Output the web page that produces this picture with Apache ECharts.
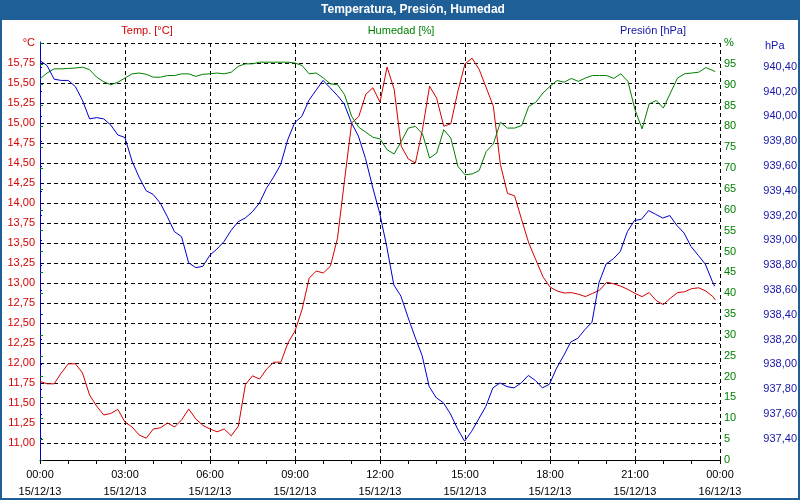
<!DOCTYPE html>
<html>
<head>
<meta charset="utf-8">
<script src="https://cdn.jsdelivr.net/npm/echarts@6/dist/echarts.min.js"></script>
<style>html,body{margin:0;padding:0;background:#fff}#c{width:800px;height:500px}</style>
</head>
<body>
<div id="c"></div>
<script>
// sample times (hours after 00:00 15/12/13), 15-minute readings + last at 23:50
const times = [];
for (let i = 0; i < 96; i++) times.push(i * 0.25);
times.push(23 + 50 / 60);

const tempC = [
  11.77, 11.74, 11.74, 11.875, 11.99, 11.99, 11.875, 11.60,
  11.46, 11.35, 11.37, 11.42, 11.26, 11.20, 11.10, 11.06,
  11.175, 11.19, 11.25, 11.20, 11.29, 11.425, 11.30, 11.22,
  11.175, 11.14, 11.175, 11.09, 11.21, 11.73, 11.84, 11.80,
  11.925, 12.01, 12.01, 12.25, 12.40, 12.67, 13.06, 13.15,
  13.125, 13.21, 13.56, 14.29, 15.00, 15.08, 15.36, 15.44,
  15.26, 15.70, 15.42, 14.71, 14.55, 14.50, 14.92, 15.46,
  15.31, 14.96, 14.99, 15.40, 15.74, 15.81, 15.67, 15.44,
  15.21, 14.48, 14.12, 14.09, 13.79, 13.50, 13.29, 13.08,
  12.95, 12.90, 12.875, 12.88, 12.86, 12.83, 12.87, 12.91,
  13.01, 12.99, 12.96, 12.92, 12.87, 12.83, 12.88, 12.78,
  12.73, 12.81, 12.88, 12.89, 12.93, 12.94, 12.90, 12.83,
  12.79
];

const humidity = [
  91.4, 92.8, 93.8, 93.8, 93.9, 94.0, 94.2, 93.6,
  91.8, 90.7, 90.0, 90.6, 91.6, 92.6, 92.8, 92.5,
  91.8, 91.8, 92.2, 92.2, 92.6, 92.6, 92.0, 92.5,
  92.6, 92.8, 92.6, 93.0, 94.4, 95.0, 95.0, 95.4,
  95.4, 95.4, 95.4, 95.4, 95.2, 94.6, 92.6, 92.8,
  91.6, 90.2, 90.0, 87.6, 82.4, 79.8, 78.6, 77.4,
  77.0, 74.4, 73.4, 76.4, 79.6, 80.0, 78.2, 72.4,
  73.6, 79.2, 77.2, 70.4, 68.4, 68.6, 69.4, 74.0,
  75.8, 81.0, 79.6, 79.6, 80.2, 84.8, 85.8, 88.0,
  89.6, 91.0, 90.6, 91.5, 90.8, 91.6, 92.2, 92.2,
  92.2, 91.5, 92.6, 90.8, 84.0, 79.4, 85.4, 86.2,
  84.4, 88.0, 91.6, 92.6, 92.8, 93.0, 94.1, 93.4,
  93.1
];

const pressure = [
  940.45, 940.41, 940.30, 940.29, 940.29, 940.24, 940.13, 939.98,
  939.99, 939.98, 939.93, 939.85, 939.83, 939.64, 939.51, 939.40,
  939.37, 939.30, 939.19, 939.07, 939.03, 938.82, 938.78, 938.79,
  938.88, 938.93, 938.99, 939.08, 939.15, 939.18, 939.23, 939.30,
  939.42, 939.51, 939.61, 939.81, 939.95, 940.00, 940.13, 940.21,
  940.29, 940.23, 940.17, 940.10, 939.95, 939.84, 939.66, 939.43,
  939.22, 938.95, 938.64, 938.55, 938.38, 938.22, 938.07, 937.82,
  937.73, 937.69, 937.60, 937.48, 937.38, 937.46, 937.56, 937.66,
  937.81, 937.85, 937.82, 937.81, 937.85, 937.91, 937.87, 937.81,
  937.84, 937.97, 938.07, 938.18, 938.21, 938.28, 938.34, 938.66,
  938.81, 938.85, 938.91, 939.07, 939.16, 939.17, 939.24, 939.21,
  939.18, 939.20, 939.12, 939.06, 938.95, 938.88, 938.81, 938.67,
  938.63
];

const xTickLabels = ['00:00\n15/12/13','03:00\n15/12/13','06:00\n15/12/13','09:00\n15/12/13',
  '12:00\n15/12/13','15:00\n15/12/13','18:00\n15/12/13','21:00\n15/12/13','00:00\n16/12/13'];

const title = 'Temperatura, Presión, Humedad';
const FONT = "'Liberation Sans', Arial, sans-serif";
const RED = '#d40000', GREEN = '#008000', BLUE = '#0000cc', BLUE_TXT = '#1414a8';
const FRAME = '#1f5f98';

const chart = echarts.init(document.getElementById('c'), null, {renderer: 'canvas'});
const pts = arr => times.map((t, i) => [t, arr[i]]);
const comma2 = v => v.toFixed(2).replace('.', ',');
const hiddenX = gi => ({type: 'value', gridIndex: gi, min: 0, max: 24, show: false});

chart.setOption({
  animation: false,
  backgroundColor: '#ffffff',
  textStyle: {fontFamily: FONT},
  grid: [
    {left: 40, right: 80, top: 43, bottom: 40},
    {left: 40, right: 80, top: 43, bottom: 37},
    {left: 40, right: 80, top: 42, bottom: 36.5}
  ],
  xAxis: [
    {
      type: 'value', gridIndex: 0, min: 0, max: 24, interval: 3,
      axisLine: {show: true, lineStyle: {color: '#000', width: 1}},
      axisTick: {show: true, length: 4, lineStyle: {color: '#000'}},
      minorTick: {show: true, splitNumber: 3, length: 4, lineStyle: {color: '#000'}},
      splitLine: {show: true, lineStyle: {color: '#000', type: [4, 3], width: 1}},
      axisLabel: {
        color: '#000', fontSize: 11, fontFamily: FONT, lineHeight: 17, margin: 6,
        formatter: v => xTickLabels[Math.round(v / 3)]
      }
    },
    hiddenX(1),
    hiddenX(2)
  ],
  yAxis: [
    { // humidity
      type: 'value', gridIndex: 0, position: 'right', min: 0, max: 100, interval: 5,
      axisLine: {show: true, lineStyle: {color: GREEN, width: 1}},
      axisTick: {show: true, length: 3, lineStyle: {color: GREEN}},
      splitLine: {show: false},
      axisLabel: {color: GREEN, fontSize: 11, fontFamily: FONT, margin: 4,
        formatter: v => (v === 100 ? '%' : String(v))}
    },
    { // left frame line
      type: 'value', gridIndex: 0, position: 'left', min: 0, max: 100,
      axisLine: {show: true, lineStyle: {color: '#000', width: 1}},
      axisTick: {show: false}, axisLabel: {show: false}, splitLine: {show: false}
    },
    { // temperature
      type: 'value', gridIndex: 1, position: 'left', min: 10.75, max: 16, interval: 0.25,
      axisLine: {show: false}, axisTick: {show: false},
      splitLine: {show: true, showMinLine: false, lineStyle: {color: '#000', type: [4, 3], width: 1}},
      axisLabel: {color: RED, fontSize: 11, fontFamily: FONT, margin: 5, showMinLabel: false,
        formatter: v => (Math.abs(v - 16) < 1e-6 ? '°C' : comma2(v))}
    },
    { // pressure
      type: 'value', gridIndex: 2, position: 'right', offset: 40, min: 937.2, max: 940.6, interval: 0.2,
      axisLine: {show: true, lineStyle: {color: BLUE, width: 1}},
      axisTick: {show: true, length: 2, lineStyle: {color: BLUE}},
      splitLine: {show: false},
      axisLabel: {color: BLUE_TXT, fontSize: 11, fontFamily: FONT, margin: 4,
        showMinLabel: false, showMaxLabel: false, formatter: v => comma2(v)}
    }
  ],
  series: [
    {name: 'Temp. [°C]', type: 'line', xAxisIndex: 1, yAxisIndex: 2, data: pts(tempC),
      showSymbol: false, lineStyle: {color: RED, width: 1}, itemStyle: {color: RED}, z: 3},
    {name: 'Humedad [%]', type: 'line', xAxisIndex: 0, yAxisIndex: 0, data: pts(humidity),
      showSymbol: false, lineStyle: {color: GREEN, width: 1}, itemStyle: {color: GREEN}, z: 3},
    {name: 'Presión [hPa]', type: 'line', xAxisIndex: 2, yAxisIndex: 3, data: pts(pressure),
      showSymbol: false, lineStyle: {color: BLUE, width: 1}, itemStyle: {color: BLUE}, z: 4}
  ],
  graphic: [
    {type: 'rect', shape: {x: 0, y: 0, width: 800, height: 20}, style: {fill: FRAME}, z: 100},
    {type: 'rect', shape: {x: 0, y: 0, width: 2, height: 500}, style: {fill: FRAME}, z: 100},
    {type: 'rect', shape: {x: 798, y: 0, width: 2, height: 500}, style: {fill: FRAME}, z: 100},
    {type: 'rect', shape: {x: 0, y: 498, width: 800, height: 2}, style: {fill: FRAME}, z: 100},
    {type: 'text', x: 413, y: 10, z: 101, style: {text: title, fill: '#fff', font: 'bold 12px ' + FONT,
      textAlign: 'center', textVerticalAlign: 'middle'}},
    {type: 'text', x: 147, y: 31, style: {text: 'Temp. [°C]', fill: RED, font: '11px ' + FONT,
      textAlign: 'center', textVerticalAlign: 'middle'}},
    {type: 'text', x: 401, y: 31, style: {text: 'Humedad [%]', fill: GREEN, font: '11px ' + FONT,
      textAlign: 'center', textVerticalAlign: 'middle'}},
    {type: 'text', x: 653, y: 31, style: {text: 'Presión [hPa]', fill: BLUE_TXT, font: '11px ' + FONT,
      textAlign: 'center', textVerticalAlign: 'middle'}},
    {type: 'text', x: 765, y: 46, style: {text: 'hPa', fill: BLUE_TXT, font: '11px ' + FONT,
      textAlign: 'left', textVerticalAlign: 'middle'}}
  ]
});
</script>
</body>
</html>
